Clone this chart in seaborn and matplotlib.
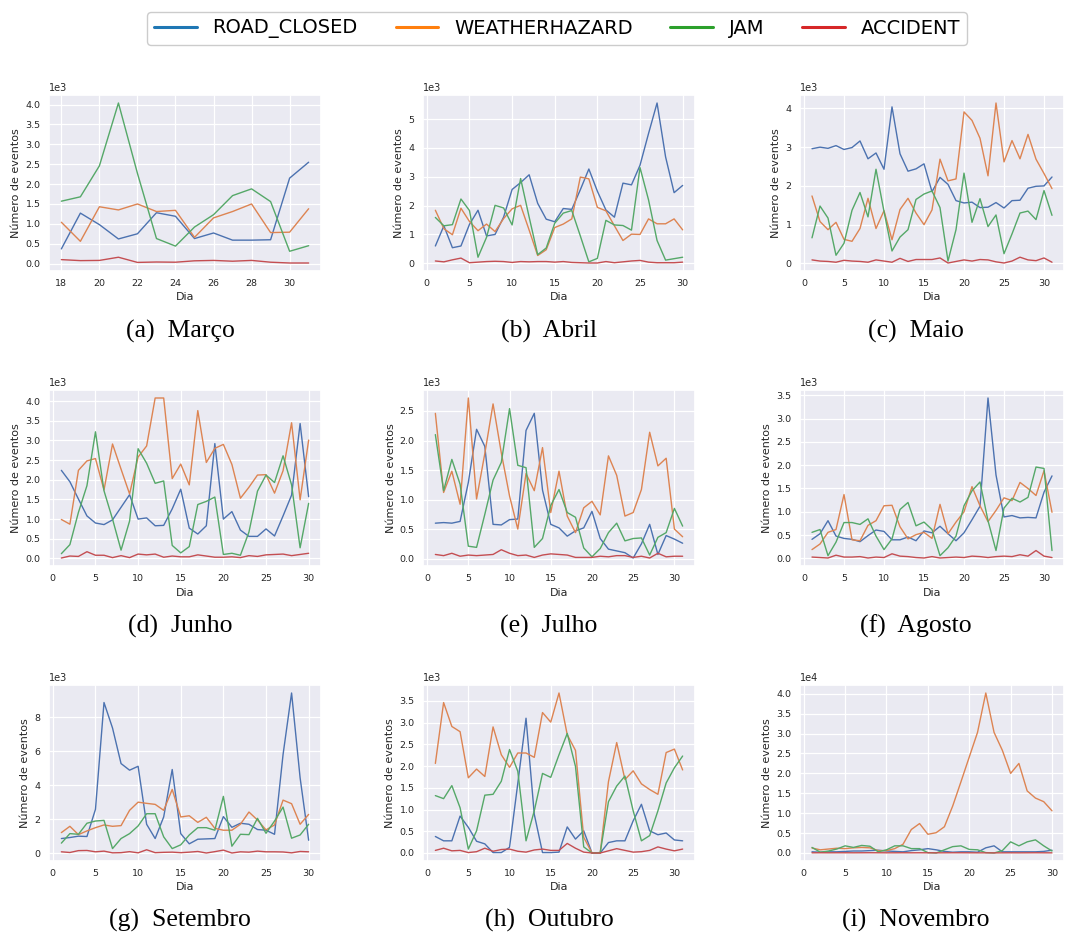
import matplotlib
matplotlib.use("Agg")
import matplotlib.pyplot as plt
from matplotlib.lines import Line2D
from matplotlib.ticker import MultipleLocator
import pandas as pd
import seaborn as sns

TIPOS = ["ROAD_CLOSED", "WEATHERHAZARD", "JAM", "ACCIDENT"]

# ---- Março (dias 18-31) ----
marco_dias = list(range(18, 32))
marco_road = [370, 1270, 980, 620, 750, 1280, 1190, 630, 770, 590, 590, 600, 2150, 2550]
marco_weather = [1040, 560, 1430, 1350, 1500, 1310, 1340, 660, 1150, 1310, 1500, 780, 790, 1380]
marco_jam = [1570, 1680, 2460, 4040, 2270, 630, 440, 920, 1230, 1710, 1880, 1560, 310, 450]
marco_acc = [100, 75, 80, 160, 30, 40, 35, 70, 80, 60, 80, 35, 15, 15]

# ---- Abril ----
abril_dias = list(range(1, 31))
abril_road = [600, 1300, 540, 600, 1350, 1840, 950, 1000, 1600, 2560, 2800, 3070, 2080, 1530, 1440,
              1900, 1870, 2550, 3270, 2500, 1850, 1600, 2780, 2720, 3400, 4500, 5560, 3690, 2450, 2700]
abril_weather = [1840, 1200, 990, 1910, 1450, 1130, 1360, 1100, 1550, 1890, 2010, 1150, 270, 470, 1240,
                 1360, 1540, 2990, 2930, 1940, 1820, 1300, 790, 1010, 1000, 1540, 1370, 1370, 1540, 1160]
abril_jam = [1590, 1300, 1340, 2230, 1830, 210, 900, 2010, 1920, 1330, 2940, 1600, 300, 530, 1390,
             1740, 1830, 950, 50, 170, 1490, 1330, 1310, 1150, 3320, 2200, 790, 110, 160, 210]
abril_acc = [80, 50, 120, 180, 20, 40, 60, 70, 60, 30, 60, 50, 60, 60, 40,
             60, 30, 20, 10, 10, 60, 20, 50, 80, 100, 40, 20, 20, 20, 40]

# ---- Maio ----
maio_dias = list(range(1, 32))
maio_road = [2960, 3000, 2970, 3040, 2940, 2990, 3160, 2700, 2850, 2430, 4040, 2830, 2380, 2440, 2570, 1850,
             2220, 2040, 1620, 1560, 1580, 1440, 1450, 1570, 1430, 1620, 1630, 1940, 1990, 2000, 2230]
maio_weather = [1740, 1080, 870, 1060, 620, 570, 900, 1680, 900, 1360, 610, 1390, 1680, 1300, 1000, 1380,
                2690, 2130, 2180, 3910, 3690, 3230, 2260, 4140, 2620, 3170, 2700, 3330, 2690, 2320, 1930]
maio_jam = [660, 1480, 1170, 210, 520, 1370, 1830, 1200, 2430, 1340, 320, 680, 870, 1650, 1790, 1870,
            1440, 60, 870, 2330, 1060, 1670, 950, 1250, 250, 760, 1300, 1350, 1130, 1880, 1240]
maio_acc = [90, 60, 50, 30, 80, 60, 50, 30, 90, 60, 30, 130, 50, 100, 100, 100,
            140, 10, 50, 90, 60, 100, 90, 40, 10, 60, 160, 90, 70, 140, 30]

# ---- Junho ----
junho_dias = list(range(1, 31))
junho_road = [2240, 1950, 1510, 1080, 900, 860, 980, 1300, 1620, 1000, 1030, 830, 840, 1260, 1760,
              770, 620, 830, 2920, 1000, 1190, 720, 560, 560, 750, 570, 1080, 1610, 3430, 1570]
junho_weather = [990, 870, 2240, 2480, 2540, 1740, 2910, 2270, 1640, 2580, 2860, 4080, 4080, 2030, 2400,
                 1870, 3760, 2440, 2800, 2900, 2390, 1530, 1810, 2120, 2130, 1660, 2230, 3450, 1490, 3010]
junho_jam = [120, 350, 1170, 1850, 3220, 1720, 1000, 210, 950, 2790, 2420, 1910, 1970, 330, 140,
             300, 1370, 1450, 1560, 100, 130, 80, 670, 1710, 2120, 1930, 2610, 1870, 270, 1400]
junho_acc = [10, 60, 50, 170, 80, 80, 20, 70, 20, 110, 90, 110, 30, 60, 40,
             40, 90, 60, 30, 30, 40, 20, 70, 50, 90, 100, 110, 70, 100, 130]

# ---- Julho ----
julho_dias = list(range(1, 32))
julho_road = [600, 610, 600, 630, 1290, 2190, 1900, 580, 570, 660, 670, 2170, 2460, 1160, 580, 520,
              380, 470, 520, 800, 340, 160, 130, 100, 10, 250, 580, 70, 390, 330, 260]
julho_weather = [2460, 1120, 1480, 920, 2720, 1010, 1780, 2620, 1790, 1060, 500, 1440, 1150, 1880, 780, 1480,
                 720, 440, 860, 970, 740, 1740, 1410, 720, 780, 1170, 2140, 1570, 1700, 500, 370]
julho_jam = [2100, 1150, 1680, 1260, 210, 190, 750, 1330, 1630, 2540, 1580, 1540, 190, 340, 900, 1170,
             780, 700, 180, 30, 170, 440, 600, 300, 340, 350, 60, 360, 440, 850, 550]
julho_acc = [70, 50, 90, 40, 60, 50, 60, 70, 150, 90, 50, 60, 20, 60, 80, 70,
             60, 20, 20, 20, 40, 30, 50, 50, 20, 40, 10, 90, 30, 40, 40]

# ---- Agosto ----
agosto_dias = list(range(1, 32))
agosto_road = [410, 530, 810, 480, 430, 410, 360, 490, 610, 580, 400, 400, 460, 380, 590, 550,
               690, 530, 380, 550, 830, 1120, 3440, 1790, 890, 920, 870, 880, 870, 1420, 1770]
agosto_weather = [190, 310, 560, 620, 1370, 400, 380, 710, 810, 1130, 1140, 680, 420, 510, 560, 430,
                  1160, 530, 780, 1000, 1540, 1130, 790, 1030, 1300, 1240, 1630, 1500, 1350, 1880, 990]
agosto_jam = [560, 620, 60, 350, 770, 770, 730, 850, 480, 190, 420, 1050, 1200, 700, 780, 620,
              60, 230, 480, 1130, 1450, 1640, 810, 170, 1080, 1290, 1210, 1310, 1960, 1930, 170]
agosto_acc = [30, 20, 10, 70, 30, 30, 40, 10, 30, 20, 100, 50, 40, 20, 10, 40,
              10, 20, 30, 20, 50, 40, 20, 40, 50, 40, 80, 50, 170, 50, 20]

# ---- Setembro ----
setembro_dias = list(range(1, 31))
setembro_road = [860, 920, 1000, 980, 2580, 8860, 7360, 5270, 4880, 5110, 1700, 860, 2130, 4920, 1150,
                 550, 820, 840, 860, 2150, 1520, 1760, 1700, 1390, 1350, 1110, 5800, 9420, 4430, 760]
setembro_weather = [1210, 1580, 1090, 1310, 1500, 1660, 1580, 1620, 2520, 3000, 2930, 2870, 2520, 3750, 2130,
                    2200, 1810, 2110, 1460, 1350, 1350, 1700, 2420, 1950, 1370, 1660, 3120, 2910, 1700, 2280]
setembro_jam = [590, 1150, 1110, 1760, 1890, 1930, 270, 860, 1150, 1600, 2320, 2320, 960, 270, 490,
                1070, 1500, 1500, 1350, 3340, 410, 1110, 1090, 2050, 1170, 1890, 2710, 880, 1070, 1700]
setembro_acc = [80, 40, 150, 160, 80, 120, 20, 30, 90, 20, 200, 30, 50, 60, 30,
                60, 100, 10, 90, 180, 10, 80, 60, 120, 80, 80, 70, 20, 100, 80]

# ---- Outubro ----
outubro_dias = list(range(1, 32))
outubro_road = [380, 280, 280, 850, 590, 270, 210, 10, 10, 130, 1600, 3100, 890, 10, 10, 20,
                600, 320, 510, 0, 0, 240, 280, 280, 740, 1120, 510, 420, 460, 300, 280]
outubro_weather = [2060, 3460, 2910, 2790, 1730, 1930, 1760, 2900, 2260, 1970, 2300, 2300, 2200, 3230, 3010, 3680,
                   2720, 2360, 360, 0, 0, 1640, 2540, 1690, 1890, 1590, 1460, 1350, 2310, 2390, 1910]
outubro_jam = [1320, 1250, 1550, 1040, 90, 510, 1330, 1350, 1650, 2380, 1880, 280, 970, 1830, 1740, 2260,
               2750, 1990, 140, 0, 10, 1180, 1540, 1770, 970, 280, 400, 970, 1610, 1960, 2230]
outubro_acc = [60, 110, 50, 60, 10, 30, 110, 40, 80, 90, 40, 20, 70, 90, 60, 60,
               220, 110, 20, 0, 0, 50, 100, 60, 20, 30, 60, 140, 90, 50, 90]

# ---- Novembro ----
novembro_dias = list(range(1, 31))
novembro_road = [300, 200, 300, 300, 400, 500, 500, 600, 700, 500, 400, 300, 600, 800, 1100,
                 800, 400, 200, 300, 300, 200, 1300, 1800, 300, 300, 300, 300, 300, 400, 700]
novembro_weather = [1250, 800, 1000, 1200, 1100, 1300, 1400, 1300, 600, 600, 1100, 2200, 5900, 7400, 4700,
                    5100, 6600, 11800, 17900, 24100, 30300, 40200, 30300, 25800, 20000, 22500, 15600, 13800,
                    12900, 10600]
novembro_jam = [1400, 200, 500, 1000, 1800, 1400, 1900, 1700, 300, 800, 1800, 1800, 1100, 1100, 100,
                0, 800, 1600, 1800, 900, 800, 100, 0, 600, 2800, 1800, 2800, 3300, 1800, 500]
novembro_acc = [50, 60, 50, 60, 60, 50, 60, 70, 60, 50, 50, 60, 50, 60, 50,
                40, 50, 60, 60, 50, 40, 40, 30, 40, 50, 40, 50, 60, 50, 40]

MESES = [
    ("(a)", "Março", marco_dias, marco_road, marco_weather, marco_jam, marco_acc),
    ("(b)", "Abril", abril_dias, abril_road, abril_weather, abril_jam, abril_acc),
    ("(c)", "Maio", maio_dias, maio_road, maio_weather, maio_jam, maio_acc),
    ("(d)", "Junho", junho_dias, junho_road, junho_weather, junho_jam, junho_acc),
    ("(e)", "Julho", julho_dias, julho_road, julho_weather, julho_jam, julho_acc),
    ("(f)", "Agosto", agosto_dias, agosto_road, agosto_weather, agosto_jam, agosto_acc),
    ("(g)", "Setembro", setembro_dias, setembro_road, setembro_weather, setembro_jam, setembro_acc),
    ("(h)", "Outubro", outubro_dias, outubro_road, outubro_weather, outubro_jam, outubro_acc),
    ("(i)", "Novembro", novembro_dias, novembro_road, novembro_weather, novembro_jam, novembro_acc),
]

# y tick spacing per panel and x tick spacing
Y_STEP = [500, 1000, 1000, 500, 500, 500, 2000, 500, 5000]
X_STEP = [2, 5, 5, 5, 5, 5, 5, 5, 5]

sns.set_theme(style="darkgrid", rc={
    "xtick.labelsize": 6.8,
    "ytick.labelsize": 6.8,
    "axes.labelsize": 8,
    "grid.linewidth": 0.9,
})
plt.rcParams["font.family"] = ["DejaVu Sans"]

deep = sns.color_palette("deep")
pal = {TIPOS[0]: deep[0], TIPOS[1]: deep[1], TIPOS[2]: deep[2], TIPOS[3]: deep[3]}

W, H = 1067, 932
fig = plt.figure(figsize=(W / 100, H / 100), dpi=100)

col_left = [49, 423, 800]
col_width = [272, 272, 264]
row_top = [95, 390, 685]
ax_h = 176
cap_x = [180, 549, 916]
cap_base = [338, 633, 927]

for i, (letra, nome, dias, road, weather, jam, acc) in enumerate(MESES):
    r, c = divmod(i, 3)
    rect = [col_left[c] / W, 1 - (row_top[r] + ax_h) / H, col_width[c] / W, ax_h / H]
    ax = fig.add_axes(rect)
    df = pd.DataFrame({
        "Dia": list(dias) * 4,
        "Eventos": list(road) + list(weather) + list(jam) + list(acc),
        "Tipo": [t for t in TIPOS for _ in dias],
    })
    sns.lineplot(data=df, x="Dia", y="Eventos", hue="Tipo", hue_order=TIPOS,
                 palette=pal, linewidth=1.0, errorbar=None, legend=False, ax=ax)
    ax.set_xlabel("Dia", labelpad=3)
    ax.set_ylabel("Número de eventos", labelpad=3)
    ax.yaxis.set_major_locator(MultipleLocator(Y_STEP[i]))
    ax.xaxis.set_major_locator(MultipleLocator(X_STEP[i]))
    ax.ticklabel_format(axis="y", style="sci", scilimits=(0, 0))
    ax.yaxis.get_offset_text().set_fontsize(7)
    ax.tick_params(length=0, pad=6)
    fig.text(cap_x[c] / W, 1 - cap_base[r] / H, f"{letra}  {nome}",
             family="Liberation Serif", fontsize=18.5, color="black",
             ha="center", va="baseline")

legend_colors = ["#1f77b4", "#ff7f0e", "#2ca02c", "#d62728"]
handles = [Line2D([], [], color=col, lw=2.2) for col in legend_colors]
leg = fig.legend(handles, TIPOS, loc="center", bbox_to_anchor=(557 / W, 1 - 28.5 / H),
                 ncol=4, fontsize=14, frameon=True, handlelength=2.2, handletextpad=0.8,
                 columnspacing=1.95, borderpad=0.35, labelcolor="black")
leg.get_frame().set_facecolor("white")
leg.get_frame().set_edgecolor("0.8")
leg.get_frame().set_alpha(1.0)

fig.savefig("out.png", dpi=100, facecolor="white")
